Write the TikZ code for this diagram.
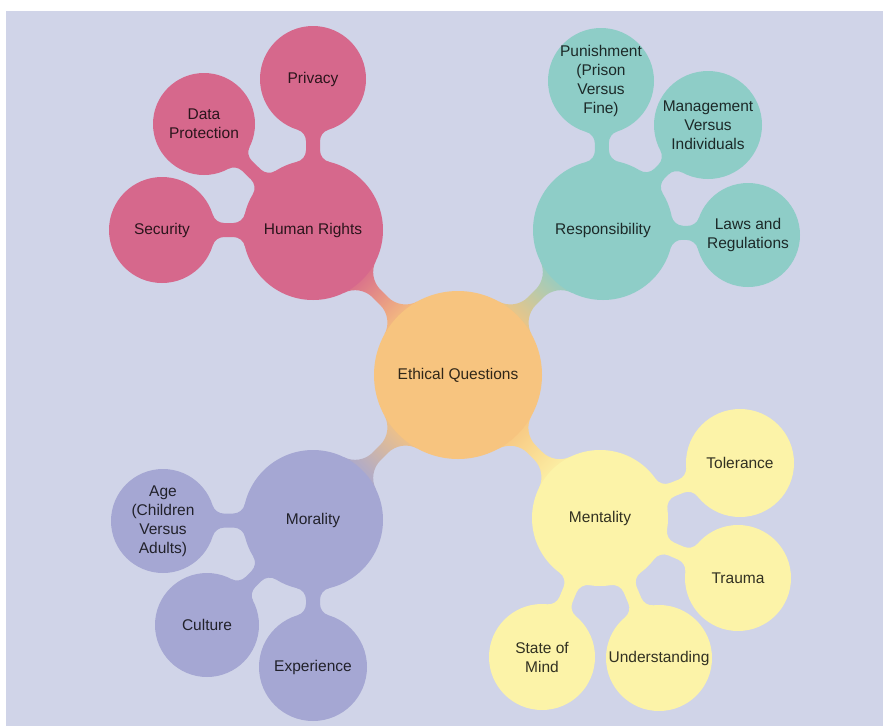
\documentclass[tikz,border=0pt]{standalone}
\usepackage{fontspec}
\setmainfont{Liberation Sans}
\usetikzlibrary{calc}

\pgfdeclarelayer{paper}
\pgfdeclarelayer{stems}
\pgfsetlayers{paper,stems,main}

\definecolor{paperbg}{HTML}{D0D4E8}
\definecolor{rootc}{HTML}{F7C47F}
\definecolor{pinkc}{HTML}{D6688C}
\definecolor{tealc}{HTML}{8ECDC7}
\definecolor{violc}{HTML}{A5A7D3}
\definecolor{yellc}{HTML}{FCF3A8}

% Filled neck between two circular nodes, with rounded fillets.
% [style]{node a}{radius a}{node b}{radius b}{half neck width}{fillet radius}
\newcommand\neckbar[7][]{%
  \path[#1] let \p1=(#2.center), \p2=(#4.center),
    \n1={atan2(\y2-\y1,\x2-\x1)},
    \n2={veclen(\x2-\x1,\y2-\y1)},
    \n3={asin((#6+#7)/(#3+#7))},
    \n4={asin((#6+#7)/(#5+#7))},
    \n5={(#3+#7)*cos(\n3)},
    \n6={\n2-(#5+#7)*cos(\n4)},
    \n7={#7*4/3*tan((90-\n3)/4)},
    \n8={#7*4/3*tan((90-\n4)/4)}
  in
    ($(\p1)+(\n1+\n3:#3)$)
    .. controls +(\n1+\n3-90:\n7) and ($(\p1)+(\n1:\n5)+(\n1+90:#6)+(\n1+180:\n7)$) ..
    ($(\p1)+(\n1:\n5)+(\n1+90:#6)$)
    -- ($(\p1)+(\n1:\n6)+(\n1+90:#6)$)
    .. controls +(\n1:\n8) and ($(\p2)+(\n1+180-\n4:#5)+(\n1+270-\n4:\n8)$) ..
    ($(\p2)+(\n1+180-\n4:#5)$)
    -- ($(\p2)+(\n1+180+\n4:#5)$)
    .. controls +(\n1+90+\n4:\n8) and ($(\p1)+(\n1:\n6)+(\n1-90:#6)+(\n1:\n8)$) ..
    ($(\p1)+(\n1:\n6)+(\n1-90:#6)$)
    -- ($(\p1)+(\n1:\n5)+(\n1-90:#6)$)
    .. controls +(\n1+180:\n7) and ($(\p1)+(\n1-\n3:#3)+(\n1-\n3+90:\n7)$) ..
    ($(\p1)+(\n1-\n3:#3)$)
    -- cycle;
}

\tikzset{
  bubble/.style 2 args={circle, fill=#1, text=#1!20!black, minimum size=#2,
    inner sep=0pt, align=center, font=\fontsize{15.5}{19}\selectfont},
  tight/.style={inner sep=-4pt},
}

\begin{document}
\begin{tikzpicture}[x=1pt,y=-1pt]
\useasboundingbox (0,0) rectangle (883,726);
\begin{pgfonlayer}{paper}
  \fill[white] (0,0) rectangle (883,726);
  \fill[paperbg] (6,11) rectangle (883,726);
\end{pgfonlayer}

% concepts
\node[bubble={rootc}{168pt}] (root) at (458,375) {Ethical Questions};

\node[bubble={pinkc}{140pt}] (hr)   at (313,230) {Human Rights};
\node[bubble={pinkc}{106pt}] (priv) at (313,79)  {Privacy};
\node[bubble={pinkc}{102pt}] (data) at (204,124) {Data\\Protection};
\node[bubble={pinkc}{106pt}] (sec)  at (162,230) {Security};

\node[bubble={tealc}{140pt}] (resp) at (603,230) {Responsibility};
\node[bubble={tealc}{106pt}, tight] (pun) at (601,81) {Punishment\\(Prison\\Versus\\Fine)};
\node[bubble={tealc}{108pt}] (mgmt) at (708,125) {Management\\Versus\\Individuals};
\node[bubble={tealc}{104pt}] (laws) at (748,235) {Laws and\\Regulations};

\node[bubble={violc}{140pt}] (mor)  at (313,520) {Morality};
\node[bubble={violc}{104pt}, tight] (age) at (163,521) {Age\\(Children\\Versus\\Adults)};
\node[bubble={violc}{104pt}] (cult) at (207,625) {Culture};
\node[bubble={violc}{108pt}] (exp)  at (313,667) {Experience};

\node[bubble={yellc}{136pt}] (ment) at (600,518) {Mentality};
\node[bubble={yellc}{108pt}] (tol)  at (740,463) {Tolerance};
\node[bubble={yellc}{106pt}] (trau) at (738,578) {Trauma};
\node[bubble={yellc}{106pt}] (som)  at (542,657) {State of\\Mind};
\node[bubble={yellc}{106pt}] (und)  at (659,658) {Understanding};

% connecting necks, behind the bubbles
\begin{pgfonlayer}{stems}
  \neckbar[left color=rootc, right color=pinkc, shading angle=-135]{root}{84pt}{hr}{70pt}{5.5pt}{25pt}
  \neckbar[left color=rootc, right color=tealc, shading angle=135]{root}{84pt}{resp}{70pt}{5.5pt}{25pt}
  \neckbar[left color=rootc, right color=violc, shading angle=-45]{root}{84pt}{mor}{70pt}{5.5pt}{25pt}
  \neckbar[left color=rootc, right color=yellc, shading angle=45]{root}{84pt}{ment}{68pt}{5.5pt}{25pt}

  \neckbar[fill=pinkc]{hr}{70pt}{priv}{53pt}{7pt}{12pt}
  \neckbar[fill=pinkc]{hr}{70pt}{data}{51pt}{7pt}{12pt}
  \neckbar[fill=pinkc]{hr}{70pt}{sec}{53pt}{7pt}{12pt}

  \neckbar[fill=tealc]{resp}{70pt}{pun}{53pt}{7pt}{12pt}
  \neckbar[fill=tealc]{resp}{70pt}{mgmt}{54pt}{7pt}{12pt}
  \neckbar[fill=tealc]{resp}{70pt}{laws}{52pt}{7pt}{12pt}

  \neckbar[fill=violc]{mor}{70pt}{age}{52pt}{7pt}{12pt}
  \neckbar[fill=violc]{mor}{70pt}{cult}{52pt}{7pt}{12pt}
  \neckbar[fill=violc]{mor}{70pt}{exp}{54pt}{7pt}{12pt}

  \neckbar[fill=yellc]{ment}{68pt}{tol}{54pt}{7pt}{12pt}
  \neckbar[fill=yellc]{ment}{68pt}{trau}{53pt}{7pt}{12pt}
  \neckbar[fill=yellc]{ment}{68pt}{som}{53pt}{7pt}{12pt}
  \neckbar[fill=yellc]{ment}{68pt}{und}{53pt}{7pt}{12pt}
\end{pgfonlayer}
\end{tikzpicture}
\end{document}
